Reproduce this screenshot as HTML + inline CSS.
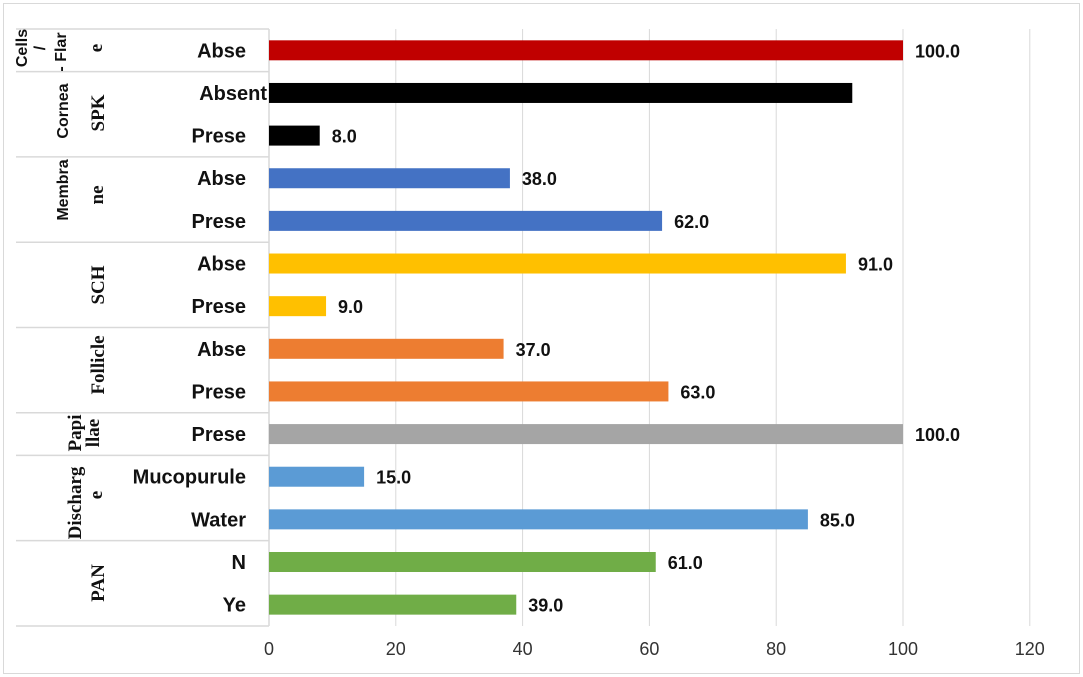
<!DOCTYPE html>
<html><head><meta charset="utf-8"><style>
body{margin:0;background:#fff}
svg{display:block}
</style></head><body>
<svg id="chart" width="1083" height="677" xmlns="http://www.w3.org/2000/svg" font-family="Liberation Sans, Arial, sans-serif">
<rect x="3.5" y="3.5" width="1076" height="670" fill="#fff" stroke="#d9d9d9"/>
<g id="grid"></g>
<g id="table" stroke="#d9d9d9" stroke-width="1.5" fill="none"></g>
<g id="groups" font-weight="bold"></g>
<g id="bars"></g>
<g id="ticks"></g>
</svg>
<script>
const categories=["Abse","Absent","Prese","Abse","Prese","Abse","Prese","Abse","Prese","Prese","Mucopurule","Water","N","Ye"];
const values=[100,92,8,38,62,91,9,37,63,100,15,85,61,39];
const valueLabels=["100.0","","8.0","38.0","62.0","91.0","9.0","37.0","63.0","100.0","15.0","85.0","61.0","39.0"];
const colors=["#c00000","#000000","#000000","#4472c4","#4472c4","#ffc000","#ffc000","#ed7d31","#ed7d31","#a5a5a5","#5b9bd5","#5b9bd5","#70ad47","#70ad47"];
const ticks=[0,20,40,60,80,100,120];
const groupBreaks=[0,1,3,5,7,9,10,12,14];
const NS="http://www.w3.org/2000/svg";
const x0=269,xs=6.34,yTop=29,rowH=42.64;
const X=v=>x0+v*xs, Y=i=>yTop+i*rowH;
function mk(tag,attrs,parent,txt){const e=document.createElementNS(NS,tag);for(const k in attrs)e.setAttribute(k,attrs[k]);if(txt!==undefined)e.textContent=txt;parent.appendChild(e);return e;}
const grid=document.getElementById('grid'),bars=document.getElementById('bars'),tk=document.getElementById('ticks'),tb=document.getElementById('table'),gr=document.getElementById('groups');
ticks.forEach(t=>{
 const l=mk('line',{x1:X(t),x2:X(t),y1:yTop,y2:Y(14),stroke:'#d9d9d9','stroke-width':1},grid);
 
 
 const tx=mk('text',{x:X(t),y:655,'text-anchor':'middle','font-size':18,fill:'#333'},tk,String(t));
 
 
});
groupBreaks.forEach(b=>{
 const l=mk('line',{x1:16,x2:x0,y1:Y(b),y2:Y(b)},tb);
 
 
});
const ax=mk('line',{x1:x0,x2:x0,y1:yTop,y2:Y(14)},tb);


categories.forEach((c,i)=>{
 const cy=Y(i)+rowH/2;
 const r=mk('rect',{x:X(0),y:cy-10,width:X(values[i])-X(0),height:20,fill:colors[i]},bars);
 
 
 const lb=mk('text',{x:c==='Absent'?267:246,y:cy+7,'text-anchor':'end','font-size':20,'font-weight':'bold',fill:'#111'},bars,c);
 
 
 if(valueLabels[i]){
  const v=mk('text',{x:X(values[i])+12,y:cy+7,'font-size':18,'font-weight':'bold',fill:'#111'},bars,valueLabels[i]);
  
  
 }
});
const groupLabels=[["Cells",27,48,0],["/",45,48,0],["- Flar",66,52,0],["e",102,48,1],["Cornea",68,111,0],["SPK",104,113,1],["Membra",68,190,0],["ne",103,195,1],["SCH",104,285,1],["Follicle",104,365,1],["Papi",81,433,1],["llae",99,433,1],["Discharg",81,503,1],["e",102,495,1],["PAN",104,583,1]];
groupLabels.forEach(g=>{
 const t=mk('text',{x:0,y:0,transform:`translate(${g[1]},${g[2]}) rotate(-90)`,'text-anchor':'middle','font-size':g[3]?19:16,fill:'#111'},gr,g[0]);
 t.setAttribute('style','font-family:'+(g[3]?'"Liberation Serif",serif':'"Liberation Sans",sans-serif'));
 
 
});
</script>
</body></html>
